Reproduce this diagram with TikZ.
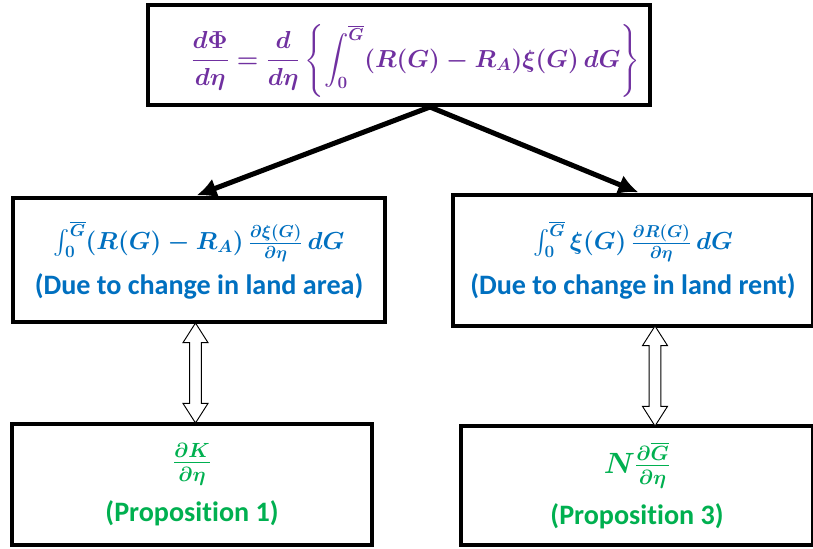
\RequirePackage{fix-cm}
\documentclass[tikz,border=0pt]{standalone}
\usepackage{fontspec}
\usepackage{amsmath}
\setmainfont{Carlito}[Ligatures=NoCommon]
\usetikzlibrary{arrows.meta,shapes.arrows}
\definecolor{eqPurple}{HTML}{7030A0}
\definecolor{eqBlue}{HTML}{0070C0}
\definecolor{eqGreen}{HTML}{00B050}
\newcommand{\eqsize}{\fontsize{21}{25}\selectfont}
\newcommand{\propsize}{\fontsize{25}{28}\selectfont}

\begin{document}
\begin{tikzpicture}[
  >=Latex,
  box/.style={draw=black, line width=3.4pt, fill=white, align=center, inner sep=0pt},
  topbox/.style={box, minimum width=15.06cm, minimum height=3.0cm, text=eqPurple, font=\fontsize{21}{25}\selectfont\boldmath\bfseries},
  midbox/.style={box, text=eqBlue, font=\fontsize{24}{28}\selectfont\boldmath\bfseries},
  propbox/.style={box, text=eqGreen, font=\fontsize{24}{28}\selectfont\boldmath\bfseries},
  split/.style={-{Latex[length=0.6cm,width=0.6cm]}, line width=4.3pt, draw=black, shorten >=1.5pt},
  link/.style={double arrow, draw=black, line width=0.8pt, fill=white, rotate=90, inner xsep=0pt, inner ysep=0.16cm,
    minimum height=3.0cm, double arrow head extend=0.2cm, double arrow tip angle=65}
]
\useasboundingbox (0,0) rectangle (24.39,-16.44);

% boxes
\node[topbox] (total) at (11.97,-1.65)
  {\hspace*{1cm}\raisebox{-5pt}[\height][\depth]{\(\displaystyle \frac{d\Phi}{d\eta}=\frac{d}{d\eta}\left\{\int_0^{\overline{G}}(R(G)-R_A)\xi(G)\,dG\right\}\)}};
\node[midbox, minimum width=11.16cm, minimum height=3.72cm] (area) at (5.97,-7.8)
  {{\eqsize\(\int_0^{\overline{G}}(R(G)-R_A)\,\frac{\partial\xi(G)}{\partial\eta}\,dG\)}\\[9pt](Due to change in land area)};
\node[midbox, minimum width=10.8cm, minimum height=3.93cm] (rent) at (18.99,-7.815)
  {{\eqsize\(\int_0^{\overline{G}}\xi(G)\,\frac{\partial R(G)}{\partial\eta}\,dG\)}\\[9pt](Due to change in land rent)};
\node[propbox, minimum width=10.8cm, minimum height=3.63cm] (propone) at (5.76,-14.535)
  {{\propsize\(\frac{\partial K}{\partial\eta}\)}\\[12pt](Proposition 1)};
\node[propbox, minimum width=10.56cm, minimum height=3.57cm] (propthree) at (19.11,-14.565)
  {{\propsize\(N\frac{\partial\overline{G}}{\partial\eta}\)}\\[12pt](Proposition 3)};

% arrows
\coordinate (fork) at ([xshift=0.93cm]total.south);
\draw[split] (fork) -- ([xshift=-0.12cm]area.north);
\draw[split] (fork) -- ([xshift=0.21cm]rent.north);

\path (area.south) -- (propone.north) node[link, midway] (linkone) {};
\path ([xshift=0.66cm]rent.south) -- ([xshift=0.54cm]propthree.north) node[link, midway] (linkthree) {};
\end{tikzpicture}
\end{document}
